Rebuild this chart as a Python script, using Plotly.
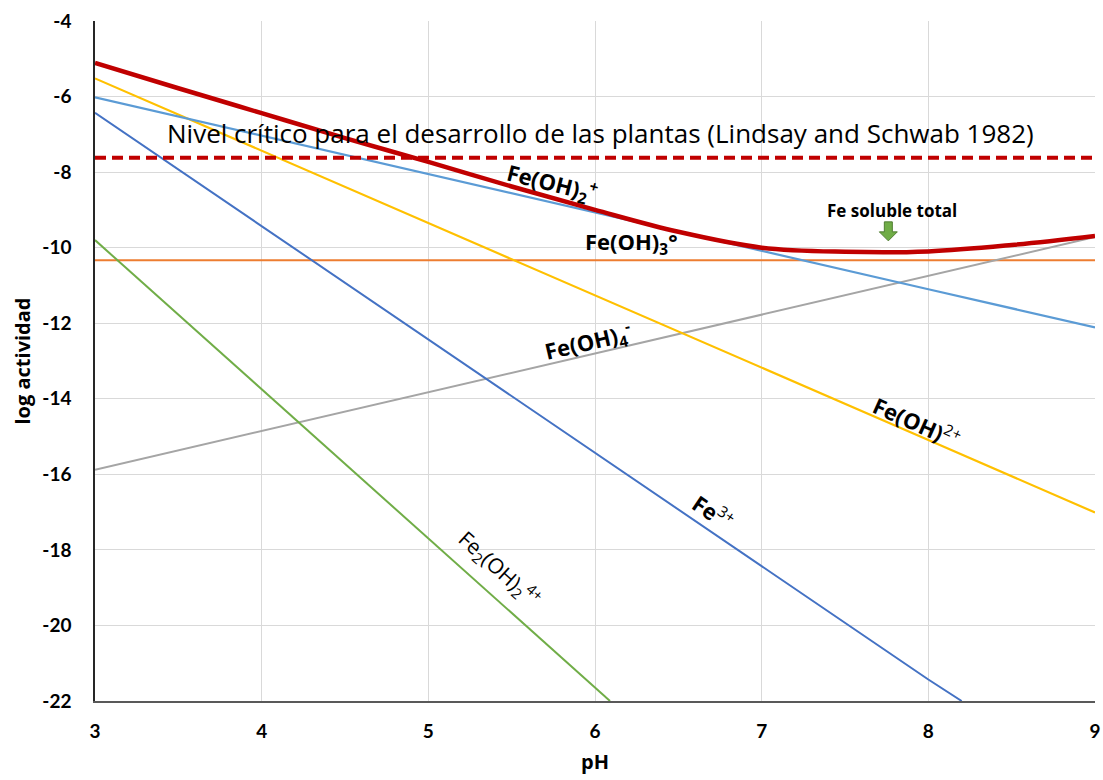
import plotly.graph_objects as go

# pH grid shared by most species
ph = [3, 4, 5, 6, 7, 8, 9]

# log activity of each dissolved Fe(III) species
fe3_ph = [3, 4, 5, 6, 7, 8, 8.2]
fe3 = [-6.43, -9.43, -12.43, -15.43, -18.43, -21.43, -22.0]
feoh_2plus = [-5.52, -7.43, -9.35, -11.26, -13.18, -15.09, -17.01]
feoh2_plus = [-6.02, -7.04, -8.05, -9.07, -10.08, -11.10, -12.11]
feoh3 = [-10.33, -10.33, -10.33, -10.33, -10.33, -10.33, -10.33]
feoh4_minus = [-15.88, -14.85, -13.82, -12.80, -11.77, -10.74, -9.72]
fe2oh2_ph = [3, 4, 5, 6, 6.09]
fe2oh2_4plus = [-9.80, -13.75, -17.70, -21.65, -22.0]

# total soluble Fe
total_ph = [3, 3.5, 4, 4.5, 5, 5.5, 6, 6.5, 7, 7.5, 8, 8.5, 9]
total_fe = [-5.11, -5.78, -6.44, -7.10, -7.73, -8.38, -9.00, -9.58,
            -10.00, -10.11, -10.10, -9.93, -9.69]

# critical level for plant growth
critical_ph = [3, 9]
critical = [-7.62, -7.62]

x_ticks = [3, 4, 5, 6, 7, 8, 9]
y_ticks = [-22, -20, -18, -16, -14, -12, -10, -8, -6, -4]

TICK_FONT = "Lato"
LABEL_FONT = "Open Sans"

fig = go.Figure()


def add_line(x, y, color, width=2, dash=None, shape="linear"):
    fig.add_trace(go.Scatter(
        x=x, y=y, mode="lines",
        line=dict(color=color, width=width, dash=dash, shape=shape),
        hoverinfo="skip", showlegend=False,
    ))


add_line(ph, feoh3, "#ED7D31")
add_line(ph, feoh4_minus, "#A5A5A5")
add_line(fe2oh2_ph, fe2oh2_4plus, "#70AD47")
add_line(fe3_ph, fe3, "#4472C4")
add_line(ph, feoh_2plus, "#FFC000", width=2.2)
add_line(ph, feoh2_plus, "#5B9BD5", width=2.2)
add_line(total_ph, total_fe, "#C00000", width=4.5, shape="spline")
add_line(critical_ph, critical, "#C00000", width=4, dash="11px,6px")

# text labels placed along the curves
labels = [
    ("Nivel crítico para el desarrollo de las plantas (Lindsay and Schwab 1982)",
     6.03, -6.97, 0, 26),
    ("<b>Fe(OH)<sub>2</sub></b><sup><b>+</b></sup>", 5.74, -8.30, 14, 22),
    ("<b>Fe(OH)<sub>3</sub>°</b>", 6.22, -9.88, 0, 22),
    ("<b>Fe(OH)<sub>4</sub></b><sup><b>-</b></sup>", 5.96, -12.50, -13, 22),
    ("<b>Fe(OH)</b><sup>2+</sup>", 7.93, -14.60, 24, 22),
    ("<b>Fe</b><sup>3+</sup>", 6.71, -16.99, 34, 22),
    ("Fe<sub>2</sub>(OH)<sub>2</sub><sup>4+</sup>", 5.43, -18.48, 42, 21),
    ("<b>Fe soluble total</b>", 7.78, -9.01, 0, 17),
]
for text, x, y, angle, size in labels:
    fig.add_annotation(
        x=x, y=y, xref="x", yref="y", text=text, showarrow=False,
        textangle=angle, font=dict(family=LABEL_FONT, size=size, color="#000000"),
        xanchor="center", yanchor="middle",
    )

# block arrow pointing at the total curve minimum
fig.add_shape(
    type="path", xref="x", yref="y",
    xsizemode="pixel", ysizemode="pixel",
    xanchor=7.76, yanchor=-9.82,
    path="M -4,19 L 4,19 L 4,9 L 9,9 L 0,0 L -9,9 L -4,9 Z",
    fillcolor="#70AD47", line=dict(color="#507E32", width=1),
)

fig.update_layout(
    width=1103, height=780,
    margin=dict(l=95, r=8, t=21, b=79, autoexpand=False),
    paper_bgcolor="white", plot_bgcolor="white",
    font=dict(family=TICK_FONT, color="#000000"),
    showlegend=False,
    xaxis=dict(
        range=[3, 9], tickvals=x_ticks, ticktext=[str(v) for v in x_ticks],
        showgrid=True, gridcolor="#D9D9D9", gridwidth=1,
        showline=True, linecolor="#595959", linewidth=2,
        zeroline=False, ticks="", ticklabelstandoff=12, automargin=False,
        tickfont=dict(family=TICK_FONT, size=19, color="#000000", weight="bold"),
        title=dict(text="<b>pH</b>", font=dict(family=LABEL_FONT, size=20), standoff=14),
    ),
    yaxis=dict(
        range=[-22, -4], tickvals=y_ticks, ticktext=[str(v) for v in y_ticks],
        showgrid=True, gridcolor="#D9D9D9", gridwidth=1,
        showline=True, linecolor="#262626", linewidth=1.5,
        zeroline=False, ticks="", ticklabelstandoff=18, automargin=False,
        tickfont=dict(family=TICK_FONT, size=19, color="#000000", weight="bold"),
        title=dict(text="<b>log actividad</b>", font=dict(family=LABEL_FONT, size=20), standoff=6),
    ),
)

fig.write_html("out.html")
